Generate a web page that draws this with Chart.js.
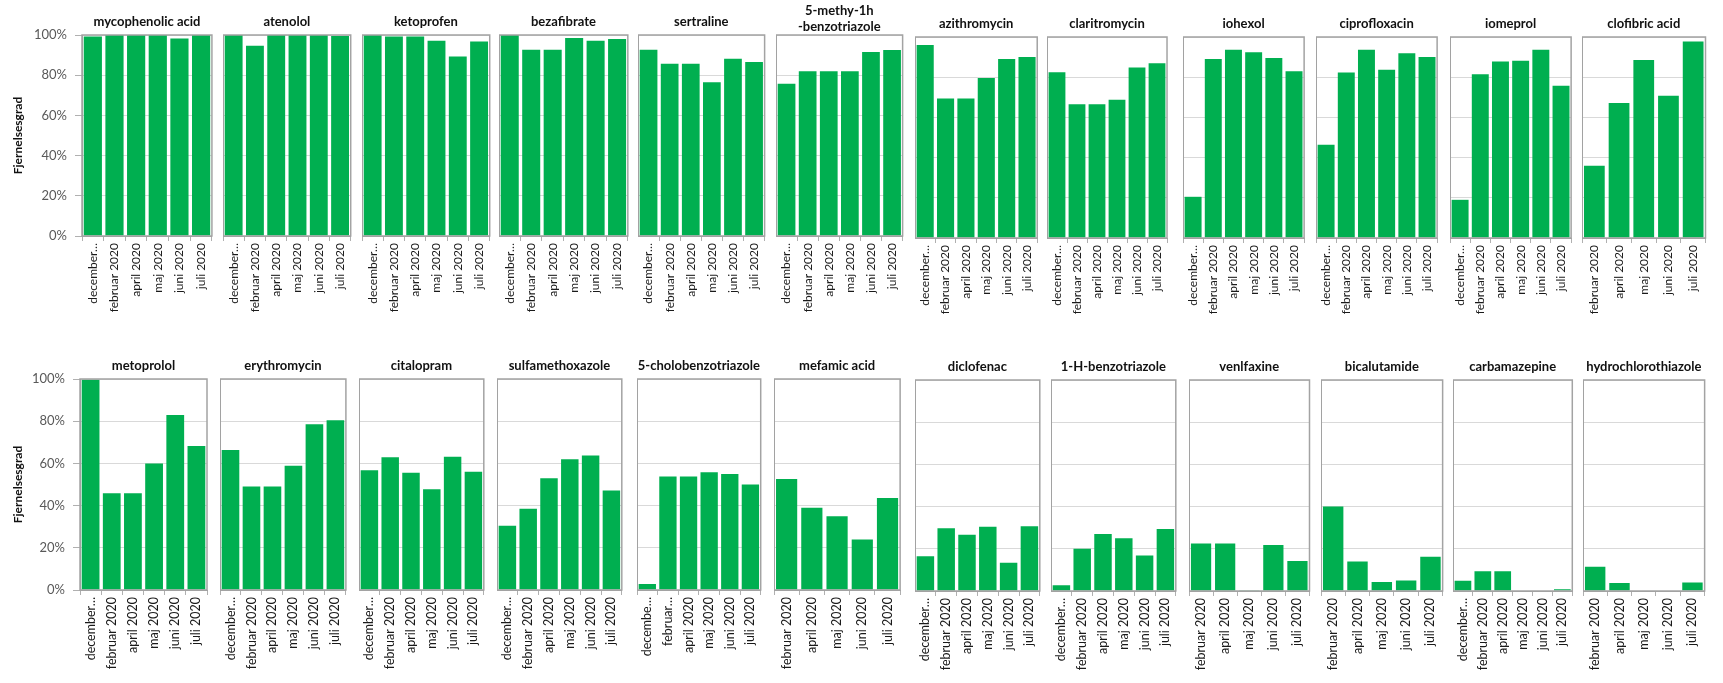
<!DOCTYPE html>
<html>
<head>
<meta charset="utf-8">
<script src="https://cdn.jsdelivr.net/npm/chart.js@4.4.1/dist/chart.umd.min.js"></script>
<style>
  html, body { margin: 0; padding: 0; background: #fff; }
  #wrap { position: relative; width: 1723px; height: 683px; overflow: hidden; background: #fff; }
  #wrap canvas { position: absolute; }
</style>
</head>
<body>
<div id="wrap"></div>
<script>
// categories
var monthsDec = ['december…', 'februar 2020', 'april 2020', 'maj 2020', 'juni 2020', 'juli 2020'];
var monthsFeb = ['februar 2020', 'april 2020', 'maj 2020', 'juni 2020', 'juli 2020'];
var monthsCut = ['decembe…', 'februar…', 'april 2020', 'maj 2020', 'juni 2020', 'juli 2020'];
var yTicks = [0, 20, 40, 60, 80, 100];

// fjernelsesgrad in %, top row
var mycophenolicAcid = [99.2, 100, 100, 100, 98.3, 100];
var atenolol = [100, 94.7, 100, 100, 100, 99.5];
var ketoprofen = [100, 99.2, 99.2, 97.2, 89.3, 96.8];
var bezafibrate = [100, 92.6, 92.6, 98.5, 97.2, 98];
var sertraline = [92.6, 85.7, 85.7, 76.5, 88.2, 86.6];
var methylBenzotriazole = [75.7, 82, 82, 82, 91.5, 92.5];
var azithromycin = [96, 69.4, 69.4, 79.6, 89, 90];
var claritromycin = [82.5, 66.5, 66.5, 68.8, 84.8, 87];
var iohexol = [20.5, 89, 93.6, 92.4, 89.5, 82.9];
var ciprofloxacin = [46.4, 82.4, 93.6, 83.7, 91.9, 90];
var iomeprol = [19, 81.5, 87.8, 88.2, 93.6, 75.8];
var clofibricAcid = [36, 67.2, 88.6, 70.8, 97.7];

// bottom row
var metoprolol = [99.7, 45.8, 45.8, 60, 82.9, 68.2];
var erythromycin = [66.4, 49, 49, 58.9, 78.6, 80.5];
var citalopram = [56.8, 62.9, 55.6, 47.8, 63.2, 56];
var sulfamethoxazole = [30.5, 38.5, 53, 62, 63.8, 47.2];
var cholobenzotriazole = [2.8, 53.8, 53.8, 55.8, 55, 50];
var mefamicAcid = [52.6, 39, 35, 23.9, 43.6];
var diclofenac = [16.5, 29.7, 26.6, 30.5, 13.4, 30.7];
var benzotriazole = [2.7, 20, 27, 25, 16.8, 29.4];
var venlfaxine = [22.5, 22.5, 0.4, 21.8, 14.2];
var bicalutamide = [40, 14, 4.3, 5, 16.2];
var carbamazepine = [4.8, 9.4, 9.4, null, null, 0.8];
var hydrochlorothiazole = [11.5, 3.8, null, null, 4];

var topPanels = [
  { title: 'mycophenolic acid', labels: monthsDec, values: mycophenolicAcid },
  { title: 'atenolol', labels: monthsDec, values: atenolol },
  { title: 'ketoprofen', labels: monthsDec, values: ketoprofen },
  { title: 'bezafibrate', labels: monthsDec, values: bezafibrate },
  { title: 'sertraline', labels: monthsDec, values: sertraline },
  { title: ['5-methy-1h', '-benzotriazole'], labels: monthsDec, values: methylBenzotriazole },
  { title: 'azithromycin', labels: monthsDec, values: azithromycin },
  { title: 'claritromycin', labels: monthsDec, values: claritromycin },
  { title: 'iohexol', labels: monthsDec, values: iohexol },
  { title: 'ciprofloxacin', labels: monthsDec, values: ciprofloxacin },
  { title: 'iomeprol', labels: monthsDec, values: iomeprol },
  { title: 'clofibric acid', labels: monthsFeb, values: clofibricAcid }
];
var bottomPanels = [
  { title: 'metoprolol', labels: monthsDec, values: metoprolol },
  { title: 'erythromycin', labels: monthsDec, values: erythromycin },
  { title: 'citalopram', labels: monthsDec, values: citalopram },
  { title: 'sulfamethoxazole', labels: monthsDec, values: sulfamethoxazole },
  { title: '5-cholobenzotriazole', labels: monthsCut, values: cholobenzotriazole },
  { title: 'mefamic acid', labels: monthsFeb, values: mefamicAcid },
  { title: 'diclofenac', labels: monthsDec, values: diclofenac },
  { title: '1-H-benzotriazole', labels: monthsDec, values: benzotriazole },
  { title: 'venlfaxine', labels: monthsFeb, values: venlfaxine },
  { title: 'bicalutamide', labels: monthsFeb, values: bicalutamide },
  { title: 'carbamazepine', labels: monthsDec, values: carbamazepine },
  { title: 'hydrochlorothiazole', labels: monthsFeb, values: hydrochlorothiazole }
];

// plot area boxes [left, right, top, bottom]
var topBoxes = [
  [82, 216, 35, 236], [223, 355, 35, 236], [362, 494, 35, 236], [499, 632, 35, 236],
  [638, 769, 35, 236], [776, 907, 35, 236], [915, 1042, 37, 238], [1047, 1172, 37, 238],
  [1183, 1309, 37, 238], [1316, 1442, 37, 238], [1450, 1576, 37, 238], [1582, 1708, 37, 238]
];
var bottomBoxes = [
  [80, 212, 379, 590], [220, 351, 379, 590], [359, 489, 379, 590], [497, 627, 379, 590],
  [637, 766, 379, 590], [774, 903, 379, 590], [915, 1045, 380, 591], [1051, 1181, 380, 591],
  [1189, 1313, 380, 591], [1321, 1446, 380, 591], [1453, 1578, 380, 591], [1583, 1708, 380, 591]
];

var FONT = 'Lato, "Open Sans", sans-serif';
var GREEN = '#00AF50';
var wrap = document.getElementById('wrap');

var boxPlugin = {
  id: 'plotBox',
  afterDraw: function(chart) {
    var a = chart.chartArea, c = chart.ctx;
    c.save();
    c.strokeStyle = '#a3a3a3';
    c.lineWidth = 1.5;
    c.strokeRect(a.left, a.top, a.right - a.left, a.bottom - a.top);
    c.restore();
  }
};

function makePanel(p, box, first, fs) {
  var L = box[0], R = box[1], T = box[2], B = box[3];
  var yw = first ? L : 0;
  var twoLines = Array.isArray(p.title);
  var lh = twoLines ? 16 : 15;
  var pb = twoLines ? 0 : 6;
  var titleH = lh * (twoLines ? 2 : 1) + pb;
  var xh = 100;

  var cv = document.createElement('canvas');
  cv.width = yw + (R - L) + 2;
  cv.height = titleH + (B - T) + xh;
  cv.style.width = cv.width + 'px';
  cv.style.height = cv.height + 'px';
  cv.style.left = (L - yw) + 'px';
  cv.style.top = (T - titleH) + 'px';
  wrap.appendChild(cv);

  var chart = new Chart(cv.getContext('2d'), {
    type: 'bar',
    data: {
      labels: p.labels,
      datasets: [{
        data: p.values,
        backgroundColor: GREEN,
        borderWidth: 0,
        barPercentage: 1,
        categoryPercentage: 0.84
      }]
    },
    options: {
      responsive: false,
      animation: false,
      devicePixelRatio: 1,
      layout: { padding: { left: 0, right: 2, top: 0, bottom: 0 } },
      plugins: {
        legend: { display: false },
        tooltip: { enabled: false },
        title: {
          display: true,
          text: p.title,
          fullSize: false,
          color: '#111',
          font: { family: FONT, size: 13, weight: 'bold', lineHeight: lh + 'px' },
          padding: { top: 0, bottom: pb }
        }
      },
      scales: {
        x: {
          grid: { offset: true, drawOnChartArea: false, drawTicks: true, tickLength: 5, color: '#b0b0b0' },
          border: { color: '#a3a3a3' },
          ticks: {
            autoSkip: false, minRotation: 90, maxRotation: 90, padding: 2,
            color: '#1a1a1a', font: { family: FONT, size: fs }
          },
          afterFit: function(a) { a.height = xh; }
        },
        y: {
          min: 0,
          max: 100,
          afterBuildTicks: function(a) { a.ticks = yTicks.map(function(v) { return { value: v }; }); },
          grid: { color: '#d9d9d9', drawTicks: first, tickLength: 7, tickColor: '#b0b0b0' },
          border: { color: '#a3a3a3' },
          ticks: {
            display: first, padding: 8, color: '#595959',
            font: { family: FONT, size: 13 },
            callback: function(v) { return v + '%'; }
          },
          title: {
            display: first,
            text: 'Fjernelsesgrad',
            color: '#111',
            font: { family: FONT, size: 12, weight: 'bold' },
            padding: { top: 11, bottom: 0 }
          },
          afterFit: function(a) { a.width = yw; }
        }
      }
    },
    plugins: [boxPlugin]
  });

  // line the plot area up with the wanted box
  var ca = chart.chartArea;
  cv.style.left = (L - ca.left) + 'px';
  cv.style.top = (T - ca.top) + 'px';
}

topPanels.forEach(function(p, i) { makePanel(p, topBoxes[i], i === 0, 12); });
bottomPanels.forEach(function(p, i) { makePanel(p, bottomBoxes[i], i === 0, 12.5); });
</script>
</body>
</html>
